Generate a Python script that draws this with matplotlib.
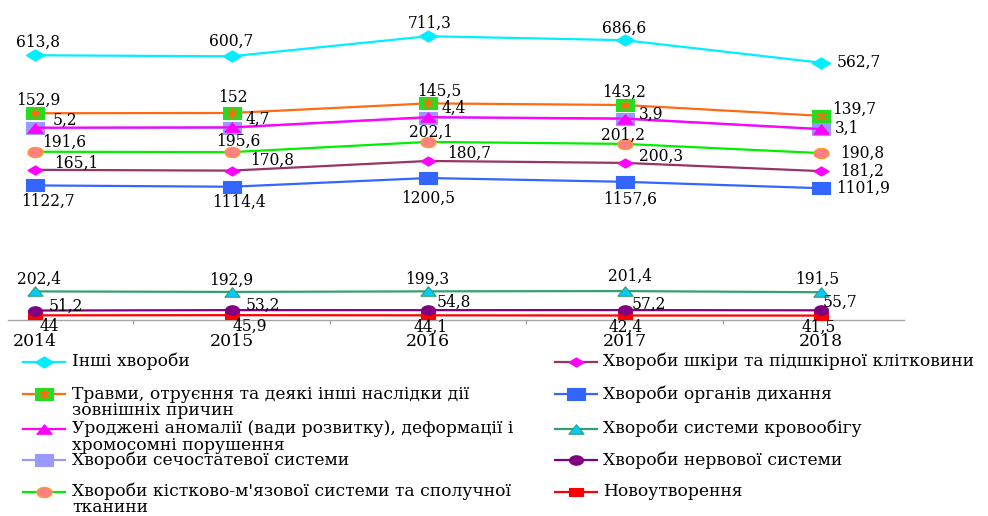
import numpy as np
import matplotlib
matplotlib.use("Agg")
import matplotlib.pyplot as plt
from matplotlib.lines import Line2D


# Children's morbidity by disease class, stacked lines
years = ["2014", "2015", "2016", "2017", "2018"]

neoplasms = [44, 45.9, 44.1, 42.4, 41.5]
nervous = [51.2, 53.2, 54.8, 57.2, 55.7]
circulatory = [202.4, 192.9, 199.3, 201.4, 191.5]
respiratory = [1122.7, 1114.4, 1200.5, 1157.6, 1101.9]
skin = [165.1, 170.8, 180.7, 200.3, 181.2]
musculoskeletal = [191.6, 195.6, 202.1, 201.2, 190.8]
genitourinary = [250, 258, 258, 265, 252]
congenital = [5.2, 4.7, 4.4, 3.9, 3.1]
injuries = [152.9, 152, 145.5, 143.2, 139.7]
other = [613.8, 600.7, 711.3, 686.6, 562.7]

names = {
    "other": "Інші хвороби",
    "injuries": "Травми, отруєння та деякі інші наслідки дії\nзовнішніх причин",
    "congenital": "Уроджені аномалії (вади розвитку), деформації і\nхромосомні порушення",
    "genitourinary": "Хвороби сечостатевої системи",
    "musculoskeletal": "Хвороби кістково-м'язової системи та сполучної\nтканини",
    "skin": "Хвороби шкіри та підшкірної клітковини",
    "respiratory": "Хвороби органів дихання",
    "circulatory": "Хвороби системи кровообігу",
    "nervous": "Хвороби нервової системи",
    "neoplasms": "Новоутворення",
}

# stacking order, bottom to top
stack = [
    ("neoplasms", neoplasms),
    ("nervous", nervous),
    ("circulatory", circulatory),
    ("respiratory", respiratory),
    ("skin", skin),
    ("musculoskeletal", musculoskeletal),
    ("genitourinary", genitourinary),
    ("congenital", congenital),
    ("injuries", injuries),
    ("other", other),
]

# legend order, two columns
legend_left = ["other", "injuries", "congenital", "genitourinary", "musculoskeletal"]
legend_right = ["skin", "respiratory", "circulatory", "nervous", "neoplasms"]


def shape(kind):
    """Squashed marker outlines"""
    if kind == "diamond":
        return [(-1, 0), (0, 0.6), (1, 0), (0, -0.6), (-1, 0)]
    if kind == "rect":
        return [(-1, -0.6), (1, -0.6), (1, 0.6), (-1, 0.6), (-1, -0.6)]
    if kind == "tri":
        return [(-1, -0.62), (1, -0.62), (0, 0.62), (-1, -0.62)]
    t = np.linspace(0, 2 * np.pi, 41)
    return list(zip(np.cos(t), 0.68 * np.sin(t)))


styles = {
    "other": dict(color="#00EEFF", marker=shape("diamond"), ms=13.5, mfc="#00EEFF", mec="#00EEFF"),
    "injuries": dict(color="#FF6A13", marker=shape("rect"), ms=13.5, mfc="#1EE01E", mec="#1EE01E"),
    "congenital": dict(color="#FF00FF", marker=shape("tri"), ms=11, mfc="#FF00FF", mec="#FF00FF"),
    "genitourinary": dict(color="#9999FF", marker=shape("rect"), ms=13.5, mfc="#9999FF", mec="#9999FF"),
    "musculoskeletal": dict(color="#00EE00", marker=shape("ellipse"), ms=11, mfc="#FF8080", mec="#FF9F1A"),
    "skin": dict(color="#993366", marker=shape("diamond"), ms=11, mfc="#FF00FF", mec="#FF00FF"),
    "respiratory": dict(color="#3366FF", marker=shape("rect"), ms=13.5, mfc="#3366FF", mec="#3366FF"),
    "circulatory": dict(color="#33A070", marker=shape("tri"), ms=11, mfc="#00CCFF", mec="#33A070"),
    "nervous": dict(color="#800080", marker=shape("ellipse"), ms=10, mfc="#800080", mec="#800080"),
    "neoplasms": dict(color="#FF0000", marker=shape("rect"), ms=10, mfc="#FF0000", mec="#FF0000"),
}

# label offsets from each point, pixels (dx right, dy down)
label_offsets = {
    "other": [(3, -13), (0, -15), (2, -13), (0, -12), (38, 0)],
    "injuries": [(3, -13), (1, -15.5), (11, -12.5), (0, -13), (33, -7)],
    "congenital": [(30, -7.5), (26, -8.5), (26, -8.5), (27, -4), (26, -1)],
    "musculoskeletal": [(29, -9), (7, -11), (3, -10), (-2, -9), (41, 0.5)],
    "skin": [(41, -7), (41, -10), (41, -8), (37, -7), (41, 0)],
    "respiratory": [(13, 16), (7, 15.5), (0, 20.5), (6, 17.5), (42, 0)],
    "circulatory": [(4, -12), (0, -12), (-1, -12), (5, -15), (-4, -12.5)],
    "nervous": [(31, -4.5), (31, -4.5), (26, -7.5), (24.5, -6), (19, -8)],
    "neoplasms": [(14, 11.5), (18.5, 11), (3, 11.5), (1.5, 11.5), (-2, 11.5)],
}

W, H = 988, 516
plt.rcParams["font.family"] = ["DejaVu Serif"]

fig = plt.figure(figsize=(W / 100, H / 100), dpi=100)
ax = fig.add_axes([8 / W, (H - 319.5) / H, 896 / W, 319.5 / H])

x = np.arange(len(years))
cum = np.cumsum(np.array([vals for _, vals in stack], dtype=float), axis=0)

for z, ((key, vals), level) in enumerate(zip(stack, cum)):
    st = styles[key]
    ax.plot(x, level, color=st["color"], lw=1.6, marker=st["marker"],
            ms=st["ms"], mfc=st["mfc"], mec=st["mec"], mew=0.8, zorder=3 + z)
    if key == "injuries":
        ax.plot(x, level, ls="none", marker=(6, 2, 0), ms=8,
                mec="#FF6A13", mew=1.0, zorder=3 + z)
    if key in label_offsets:
        for i, v in enumerate(vals):
            dx, dy = label_offsets[key][i]
            ax.annotate(f"{v:g}".replace(".", ","), (x[i], level[i]),
                        xytext=(dx, -dy), textcoords="offset pixels",
                        ha="center", va="center", fontsize=11.2,
                        color="black", zorder=20)

ax.set_xlim((8 - 35) / 196.5, (904 - 35) / 196.5)
ax.set_ylim(0, 319.5 / 0.0944)
for side in ["left", "right", "top"]:
    ax.spines[side].set_visible(False)
ax.spines["bottom"].set_color("#A6A6A6")
ax.spines["bottom"].set_linewidth(1.0)
ax.set_yticks([])
ax.set_xticks(x, years, fontsize=12.4)
ax.set_xticks(x[:-1] + 0.5, minor=True)
ax.tick_params(axis="x", which="major", length=0, pad=10)
ax.tick_params(axis="x", which="minor", length=3, width=1.0, color="#A6A6A6")
ax.patch.set_visible(False)


def fig_xy(px, py):
    return px / W, 1 - py / H


# hand-built two-column legend
rows = [361.5, 394.3, 428.5, 460, 491.5]
columns = [(legend_left, 23, 65, 72), (legend_right, 555, 597, 603)]
for keys, x0, x1, tx in columns:
    for key, row in zip(keys, rows):
        st = styles[key]
        (fx0, fy), (fx1, _) = fig_xy(x0, row), fig_xy(x1, row)
        fig.add_artist(Line2D([fx0, fx1], [fy, fy], color=st["color"], lw=1.6,
                              transform=fig.transFigure))
        fig.add_artist(Line2D([(fx0 + fx1) / 2], [fy], ls="none", marker=st["marker"],
                              ms=st["ms"], mfc=st["mfc"], mec=st["mec"], mew=0.8,
                              transform=fig.transFigure))
        if key == "injuries":
            fig.add_artist(Line2D([(fx0 + fx1) / 2], [fy], ls="none", marker=(6, 2, 0),
                                  ms=8, mec="#FF6A13", mew=1.0,
                                  transform=fig.transFigure))
        for j, line in enumerate(names[key].split("\n")):
            fig.text(*fig_xy(tx, row + 16.5 * j), line, ha="left", va="center",
                     fontsize=12.3, color="black")

fig.savefig("out.png", dpi=100)
